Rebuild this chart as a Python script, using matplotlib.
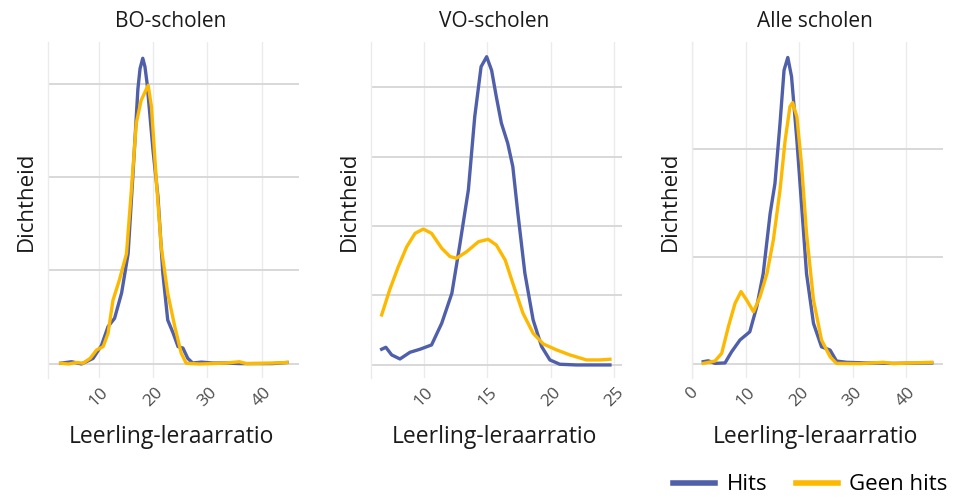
import matplotlib
matplotlib.use("Agg")
import matplotlib.pyplot as plt
from matplotlib.lines import Line2D

plt.rcParams['font.family'] = ['Open Sans', 'DejaVu Sans']

# BO-scholen
bo_hits_x = [2.96, 4.98, 6.8, 8.95, 10.5, 11.7, 12.9, 14.2, 15.4, 16.3, 17.2, 17.6, 18.1, 18.5, 18.9, 20.0,
             20.9, 21.8, 22.7, 23.7, 24.6, 25.5, 26.4, 27.3, 28.9, 31.0, 33.5, 35.9, 39.0, 42.0, 44.7]
bo_hits_y = [0.0004, 0.0012, 0.0, 0.003, 0.010, 0.020, 0.0244, 0.038, 0.059, 0.102, 0.147, 0.158, 0.1635, 0.159, 0.150, 0.114,
             0.0895, 0.0485, 0.0235, 0.0165, 0.0093, 0.0085, 0.003, 0.0005, 0.001, 0.0005, 0.0005, 0.0002, 0.0002, 0.0002, 0.0008]
bo_geen_x = [2.96, 4.4, 5.9, 7.1, 8.4, 9.6, 10.8, 11.7, 12.6, 13.8, 15.1, 16.0, 16.9, 17.8, 18.6, 19.1, 19.7,
             20.6, 21.5, 22.7, 24.0, 25.2, 26.1, 28.6, 33.5, 35.9, 37.2, 42.0, 44.7]
bo_geen_y = [0.0004, 0.0, 0.0008, 0.0004, 0.003, 0.0075, 0.0093, 0.0164, 0.034, 0.045, 0.059, 0.093, 0.1287, 0.141, 0.146, 0.149, 0.1376,
             0.098, 0.0627, 0.0378, 0.020, 0.0057, 0.0004, 0.0, 0.0005, 0.0012, 0.0002, 0.0005, 0.0008]

# VO-scholen
vo_hits_x = [6.67, 7.0, 7.46, 8.11, 8.9, 9.69, 10.6, 11.4, 12.2, 12.8, 13.5, 14.0, 14.5, 14.94, 15.33, 15.7,
             16.1, 16.6, 17.0, 17.4, 17.95, 18.6, 19.27, 19.92, 20.7, 22.0, 24.65]
vo_hits_y = [0.0113, 0.0127, 0.0072, 0.0043, 0.0091, 0.0113, 0.0144, 0.030, 0.0516, 0.085, 0.126, 0.1786, 0.2146, 0.2218, 0.212, 0.193,
             0.174, 0.1595, 0.1427, 0.109, 0.066, 0.0324, 0.0132, 0.0036, 0.0005, 0.0, 0.0]
vo_geen_x = [6.67, 7.3, 7.98, 8.64, 9.3, 9.95, 10.6, 11.4, 12.05, 12.57, 13.36, 14.3, 15.06, 15.7, 16.4, 17.0,
             17.8, 18.6, 19.4, 20.45, 21.5, 22.8, 23.86, 24.65]
vo_geen_y = [0.036, 0.054, 0.0707, 0.085, 0.0947, 0.0978, 0.0947, 0.084, 0.078, 0.0768, 0.0815, 0.0887, 0.0904, 0.0863, 0.0755, 0.0588,
             0.0372, 0.0228, 0.0151, 0.0108, 0.0072, 0.0036, 0.0036, 0.0041]

# Alle scholen
alle_hits_x = [2.1, 3.05, 4.3, 6.17, 7.4, 8.97, 10.8, 12.1, 13.3, 14.6, 15.5, 16.45, 17.2, 17.9, 18.6, 19.6,
               20.5, 21.4, 22.7, 24.2, 25.8, 27.0, 28.9, 32.6, 37.6, 44.8]
alle_hits_y = [0.0011, 0.0015, 0.0003, 0.0005, 0.0057, 0.0112, 0.015, 0.0267, 0.042, 0.070, 0.084, 0.112, 0.1367, 0.1426, 0.1337, 0.104,
               0.0732, 0.042, 0.0189, 0.008, 0.0065, 0.0014, 0.0008, 0.0005, 0.0003, 0.0005]
alle_geen_x = [2.1, 4.3, 5.55, 6.8, 8.04, 9.16, 10.2, 11.5, 12.7, 14.0, 15.2, 16.45, 17.4, 18.3, 18.8, 19.6,
               20.5, 21.4, 22.7, 24.2, 25.8, 27.0, 31.4, 35.8, 37.6, 44.8]
alle_geen_y = [0.0003, 0.0014, 0.005, 0.0174, 0.0282, 0.0337, 0.0298, 0.0243, 0.0313, 0.042, 0.0577, 0.081, 0.104, 0.1197, 0.1216, 0.115,
               0.0918, 0.0608, 0.0298, 0.0112, 0.0034, 0.0003, 0.0002, 0.0008, 0.0002, 0.0008]

titles = ['BO-scholen', 'VO-scholen', 'Alle scholen']
x_ticks = [[10, 20, 30, 40], [10, 15, 20, 25], [0, 10, 20, 30, 40]]
y_grid = [[0, 0.05, 0.10, 0.15], [0, 0.05, 0.10, 0.15, 0.20], [0, 0.05, 0.10]]
x_lims = [(0.63, 46.9), (5.83, 25.6), (0.0, 46.9)]
y_lims = [(-0.0075, 0.1722), (-0.0094, 0.2324), (-0.0065, 0.1498)]

series = [
    (bo_hits_x, bo_hits_y, bo_geen_x, bo_geen_y),
    (vo_hits_x, vo_hits_y, vo_geen_x, vo_geen_y),
    (alle_hits_x, alle_hits_y, alle_geen_x, alle_geen_y),
]

BLUE = '#4F5FAA'
YELLOW = '#FDB800'
TXT = '#1A1A1A'

fig = plt.figure(figsize=(9.6, 4.98), dpi=100)
lefts = [48, 371, 692]
for i, left in enumerate(lefts):
    ax = fig.add_axes([left / 960, 120 / 498, 251 / 960, 336 / 498])
    hx, hy, gx, gy = series[i]
    ax.plot(hx, hy, color=BLUE, lw=2.4, solid_joinstyle='round', zorder=3)
    ax.plot(gx, gy, color=YELLOW, lw=2.4, solid_joinstyle='round', zorder=4)
    ax.set_xlim(*x_lims[i])
    ax.set_ylim(*y_lims[i])
    ax.set_xticks(x_ticks[i])
    ax.set_yticks(y_grid[i])
    ax.set_yticklabels([])
    ax.tick_params(length=0)
    ax.tick_params(axis='x', labelsize=12.5, labelcolor='#4D4D4D', pad=4.5)
    for lab in ax.get_xticklabels():
        lab.set_rotation(45)
        lab.set_ha('center')
    ax.grid(axis='x', color='#EBEBEB', lw=1.0)
    ax.grid(axis='y', color='#D6D6D6', lw=1.3)
    ax.set_axisbelow(True)
    for s in ['top', 'right', 'bottom']:
        ax.spines[s].set_visible(False)
    ax.spines['left'].set_color('#EBEBEB')
    ax.spines['left'].set_linewidth(1.0)

    ax.text(0.49, 1.045, titles[i], transform=ax.transAxes, ha='center', va='baseline',
            fontsize=15, color=TXT)
    ax.set_xlabel('Leerling-leraarratio', fontsize=16.5, color=TXT)
    ax.xaxis.label.set_va('baseline')
    ax.xaxis.set_label_coords(0.49, -0.193)
    ax.set_ylabel('Dichtheid', fontsize=16, color=TXT)
    ax.yaxis.set_label_coords(-0.045, 0.527)

handles = [Line2D([], [], color=BLUE, lw=4), Line2D([], [], color=YELLOW, lw=4)]
fig.legend(handles, ['Hits', 'Geen hits'], ncol=2, loc='lower right',
           bbox_to_anchor=(1.008, -0.035), frameon=False, fontsize=16,
           handlelength=1.9, columnspacing=1.3, handletextpad=0.5)

fig.savefig('out.png', dpi=100)
